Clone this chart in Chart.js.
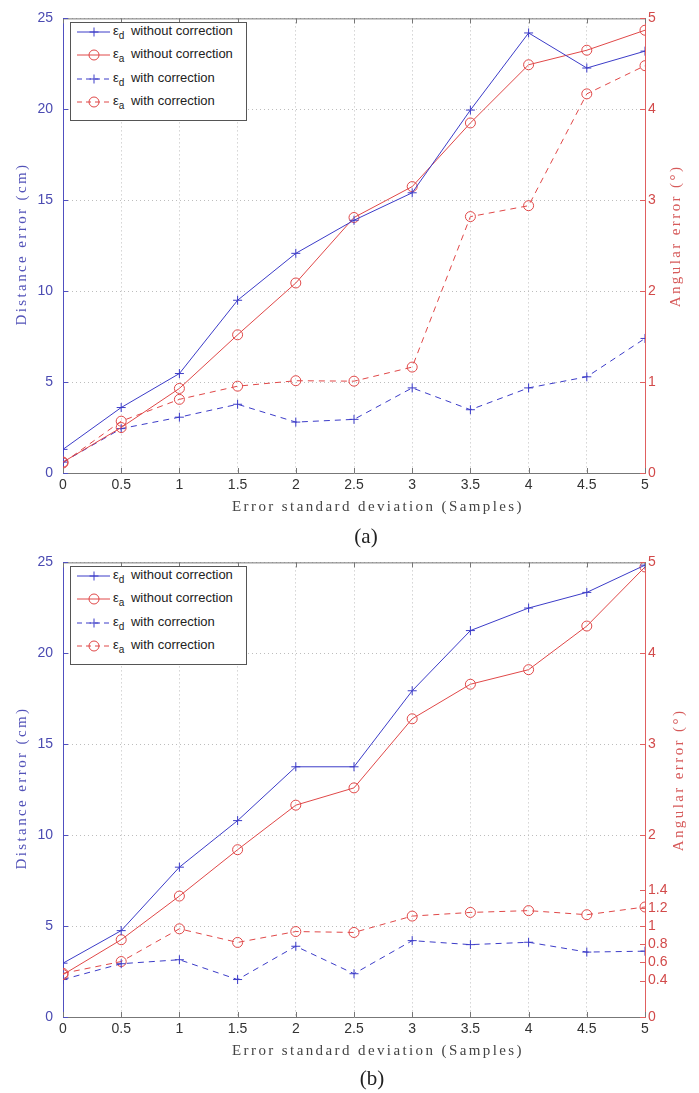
<!DOCTYPE html>
<html>
<head>
<meta charset="utf-8">
<script src="https://cdn.jsdelivr.net/npm/chart.js@4.4.0/dist/chart.umd.min.js"></script>
<style>
body { margin: 0; background: #fff; width: 699px; height: 1093px; position: relative; overflow: hidden; font-family: "Liberation Sans", Arial, sans-serif; }
canvas { position: absolute; left: 0; }
.ttl { position: absolute; font-family: "Liberation Serif", serif; font-size: 15px; letter-spacing: 2.4px; white-space: nowrap; transform: translate(-50%, -50%); }
.rot { transform: translate(-50%, -50%) rotate(-90deg); }
.cap { position: absolute; font-family: "Liberation Serif", serif; font-size: 21px; color: #222; transform: translate(-50%, -50%); }
.legend { position: absolute; left: 70px; width: 175px; height: 97px; border: 1px solid #555; background: #fff; }
.legend .row { position: absolute; left: 0; height: 16px; display: flex; align-items: center; font-size: 13px; color: #222; white-space: nowrap; }
.legend svg { margin-left: 5px; margin-right: 3px; }
.legend sub { font-size: 10px; vertical-align: -4px; margin-right: 3px; }
</style>
</head>
<body>
<canvas id="chartA" width="699" height="500" style="top:0"></canvas>
<canvas id="chartB" width="699" height="500" style="top:544px"></canvas>

<div class="ttl rot" style="left:21px;top:244px;color:#5252b8">Distance error (cm)</div>
<div class="ttl rot" style="left:675px;top:236px;color:#d65a5a">Angular error (°)</div>
<div class="ttl" style="left:378px;top:506px;color:#444">Error standard deviation (Samples)</div>
<div class="cap" style="left:366px;top:536px">(a)</div>
<div class="legend" id="legendA" style="top:22px"></div>

<div class="ttl rot" style="left:21px;top:788px;color:#5252b8">Distance error (cm)</div>
<div class="ttl rot" style="left:678px;top:780px;color:#d65a5a">Angular error (°)</div>
<div class="ttl" style="left:378px;top:1050px;color:#444">Error standard deviation (Samples)</div>
<div class="cap" style="left:372px;top:1078px">(b)</div>
<div class="legend" id="legendB" style="top:566px"></div>

<script>
// desviación estándar del error (muestras)
const xs = [0, 0.5, 1, 1.5, 2, 2.5, 3, 3.5, 4, 4.5, 5];

// (a)
const dSinA = [1.3, 3.6, 5.47, 9.5, 12.08, 13.9, 15.41, 19.96, 24.2, 22.27, 23.2];
const aSinA = [0.12, 0.5, 0.93, 1.52, 2.09, 2.81, 3.15, 3.85, 4.49, 4.65, 4.87];
const dConA = [0.6, 2.44, 3.07, 3.78, 2.8, 2.95, 4.68, 3.48, 4.68, 5.29, 7.4];
const aConA = [0.11, 0.57, 0.81, 0.955, 1.015, 1.01, 1.165, 2.82, 2.94, 4.17, 4.48];

// (b)
const dSinB = [2.96, 4.75, 8.24, 10.8, 13.76, 13.76, 17.94, 21.25, 22.49, 23.35, 24.85];
const aSinB = [0.466, 0.85, 1.33, 1.84, 2.33, 2.52, 3.28, 3.66, 3.82, 4.3, 4.95];
const dConB = [2.06, 2.93, 3.15, 2.06, 3.89, 2.38, 4.2, 3.98, 4.11, 3.57, 3.62];
const aConB = [0.48, 0.61, 0.97, 0.82, 0.94, 0.93, 1.11, 1.15, 1.17, 1.125, 1.21];

const nombres = ['ε_d without correction', 'ε_a without correction', 'ε_d with correction', 'ε_a with correction'];

const ticksDerA = [0, 1, 2, 3, 4, 5];
const ticksDerB = [0, 0.4, 0.6, 0.8, 1, 1.2, 1.4, 2, 3, 4, 5];

const azul = '#3c3cc8';
const rojo = '#e04848';
const rayas = [6, 5];
const puntosGrid = [1, 3];

function puntos(ys) {
    return xs.map((x, i) => ({ x: x, y: ys[i] }));
}

function serie(i, ys, eje, color, marca, guiones) {
    return {
        label: nombres[i],
        data: puntos(ys),
        yAxisID: eje,
        borderColor: color,
        borderWidth: 1,
        borderDash: guiones,
        pointStyle: marca,
        pointRadius: marca === 'circle' ? 5 : 4.5,
        pointBorderColor: color,
        pointBorderWidth: 1,
        pointBackgroundColor: 'rgba(0,0,0,0)',
        tension: 0,
        fill: false
    };
}

// marco superior y marcas interiores estilo MATLAB
const marco = {
    id: 'marco',
    afterDraw(chart) {
        const { ctx, chartArea: a, scales } = chart;
        ctx.save();
        ctx.lineWidth = 1;
        ctx.setLineDash([]);
        ctx.strokeStyle = '#777';
        ctx.beginPath();
        ctx.moveTo(a.left, a.top + 0.5);
        ctx.lineTo(a.right, a.top + 0.5);
        scales.x.ticks.forEach(t => {
            const px = Math.round(scales.x.getPixelForValue(t.value)) + 0.5;
            ctx.moveTo(px, a.bottom); ctx.lineTo(px, a.bottom - 5);
            ctx.moveTo(px, a.top); ctx.lineTo(px, a.top + 5);
        });
        ctx.stroke();
        ctx.strokeStyle = '#5050c0';
        ctx.beginPath();
        scales.y.ticks.forEach(t => {
            const py = Math.round(scales.y.getPixelForValue(t.value)) + 0.5;
            ctx.moveTo(a.left, py); ctx.lineTo(a.left + 5, py);
        });
        ctx.stroke();
        ctx.strokeStyle = '#e06060';
        ctx.beginPath();
        scales.y1.ticks.forEach(t => {
            const py = Math.round(scales.y1.getPixelForValue(t.value)) + 0.5;
            ctx.moveTo(a.right, py); ctx.lineTo(a.right - 5, py);
        });
        ctx.stroke();
        ctx.restore();
    }
};

const etiqueta = v => String(Math.round(v * 10) / 10);

function crearGrafica(id, dSin, aSin, dCon, aCon, ticksDer) {
    const ctx = document.getElementById(id).getContext('2d');
    return new Chart(ctx, {
        type: 'line',
        data: {
            datasets: [
                serie(0, dSin, 'y', azul, 'cross', []),
                serie(1, aSin, 'y1', rojo, 'circle', []),
                serie(2, dCon, 'y', azul, 'cross', rayas),
                serie(3, aCon, 'y1', rojo, 'circle', rayas)
            ]
        },
        options: {
            responsive: false,
            animation: false,
            layout: { padding: { top: 15, left: 0, right: 0, bottom: 0 } },
            plugins: { legend: { display: false }, tooltip: { enabled: false } },
            scales: {
                x: {
                    type: 'linear', min: 0, max: 5,
                    afterFit: s => { s.height = 27; },
                    ticks: { stepSize: 0.5, autoSkip: false, maxRotation: 0, padding: 4, color: '#333', font: { family: 'Liberation Sans', size: 14 }, callback: etiqueta },
                    grid: { color: '#bdbdbd', drawTicks: false },
                    border: { color: '#777', dash: puntosGrid }
                },
                y: {
                    position: 'left', min: 0, max: 25,
                    afterFit: s => { s.width = 63; },
                    ticks: { stepSize: 5, padding: 10, color: '#4b4bb2', font: { family: 'Liberation Sans', size: 14 } },
                    grid: { color: '#bdbdbd', drawTicks: false },
                    border: { color: '#5050c0', dash: puntosGrid }
                },
                y1: {
                    position: 'right', min: 0, max: 5,
                    afterFit: s => { s.width = 54; },
                    afterBuildTicks: s => { s.ticks = ticksDer.map(v => ({ value: v })); },
                    ticks: { padding: 3, color: '#d24a4a', font: { family: 'Liberation Sans', size: 14 }, callback: etiqueta },
                    grid: { display: false, drawTicks: false },
                    border: { color: '#e06060' }
                }
            }
        },
        plugins: [marco]
    });
}

function muestra(ds) {
    const dash = ds.borderDash.length ? 'stroke-dasharray="5,4"' : '';
    let m;
    if (ds.pointStyle === 'circle') {
        m = `<circle cx="18" cy="7" r="5" fill="none" stroke="${ds.borderColor}" stroke-width="1"/>`;
    } else {
        m = `<path d="M13.5 7H22.5M18 2.5V11.5" stroke="${ds.borderColor}" stroke-width="1"/>`;
    }
    return `<svg width="34" height="14"><line x1="1" y1="7" x2="34" y2="7" stroke="${ds.borderColor}" stroke-width="1" ${dash}/>${m}</svg>`;
}

function leyenda(chart, id) {
    const caja = document.getElementById(id);
    chart.data.datasets.forEach((ds, i) => {
        const fila = document.createElement('div');
        fila.className = 'row';
        fila.style.top = (1 + i * 23.3) + 'px';
        const texto = ds.label.replace(/_(\w)/, '<sub>$1</sub>');
        fila.innerHTML = muestra(ds) + '<span>' + texto + '</span>';
        caja.appendChild(fila);
    });
}

const graficaA = crearGrafica('chartA', dSinA, aSinA, dConA, aConA, ticksDerA);
const graficaB = crearGrafica('chartB', dSinB, aSinB, dConB, aConB, ticksDerB);
leyenda(graficaA, 'legendA');
leyenda(graficaB, 'legendB');
</script>
</body>
</html>
